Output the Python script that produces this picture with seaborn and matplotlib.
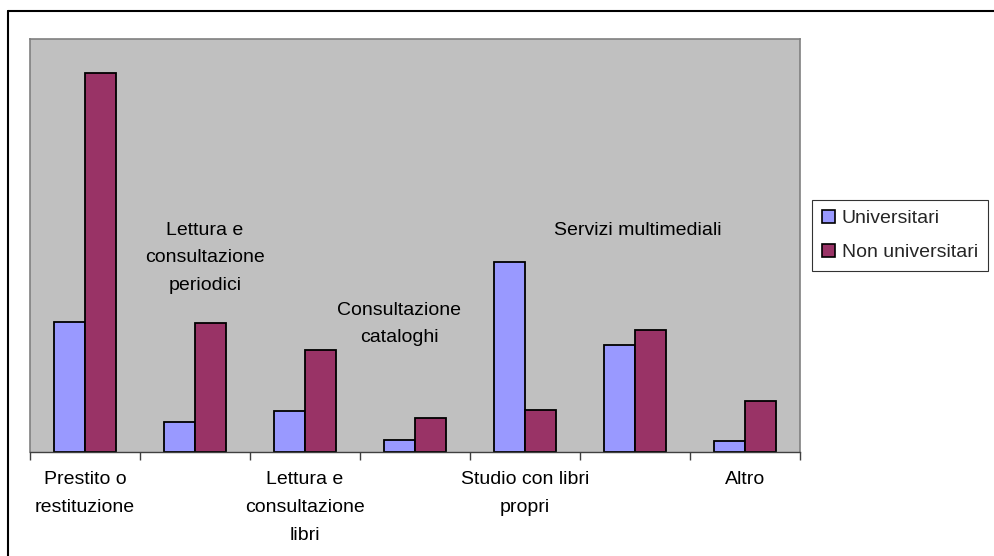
import pandas as pd
import seaborn as sns
import matplotlib.pyplot as plt
from matplotlib.lines import Line2D

categorie = ["Prestito o\nrestituzione", "Lettura e\nconsultazione\nperiodici",
             "Lettura e\nconsultazione\nlibri", "Consultazione\ncataloghi",
             "Studio con libri\npropri", "Servizi multimediali", "Altro"]
universitari = [130, 30, 41, 12, 190, 107, 11]
non_universitari = [379, 129, 102, 34, 42, 122, 51]
gruppi = ["Universitari", "Non universitari"]

df = pd.DataFrame({
    "Categoria": categorie * 2,
    "Valore": universitari + non_universitari,
    "Gruppo": [gruppi[0]] * len(categorie) + [gruppi[1]] * len(categorie),
})

sns.set_theme(style="white")
plt.rcParams['font.family'] = ['Liberation Sans', 'DejaVu Sans']

fig = plt.figure(figsize=(9.94, 5.56), dpi=100)
ax = fig.add_axes([30 / 994, 1 - 452 / 556, 770 / 994, 413 / 556])

sns.barplot(data=df, x="Categoria", y="Valore", hue="Gruppo", order=categorie,
            palette={"Universitari": "#9999FF", "Non universitari": "#993366"},
            width=0.56, edgecolor="black", linewidth=1.3, saturation=1,
            legend=False, ax=ax)

ax.set_facecolor("#C0C0C0")
ax.set_xlim(-0.5, len(categorie) - 0.5)
ax.set_ylim(0, 413)
ax.set_yticks([])
ax.set_xlabel("")
ax.set_ylabel("")
for side in ["top", "left", "right"]:
    ax.spines[side].set_color("#808080")
    ax.spines[side].set_linewidth(1.2)
ax.spines["bottom"].set_color("#404040")
ax.spines["bottom"].set_linewidth(1)

# ticks tra le categorie, etichette alternate sotto / dentro il grafico
ax.set_xticks([i - 0.5 for i in range(len(categorie) + 1)])
ax.set_xticklabels([])
ax.tick_params(axis="x", direction="out", length=6, width=1, color="#404040", bottom=True)
fs = 14
ls = 1.82
sopra = {1: (0.09, 0.47), 3: (-0.145, 0.31), 5: (0.03, 0.5375)}
for i, lab in enumerate(categorie):
    if i % 2 == 0:
        ax.text(i, -0.047, lab, transform=ax.get_xaxis_transform(), ha="center",
                va="top", fontsize=fs, linespacing=ls, color="black")
    else:
        dx, y = sopra[i]
        ax.text(i + dx, y, lab, transform=ax.get_xaxis_transform(), ha="center",
                va="center", fontsize=fs, linespacing=ls, color="black")

handles = [plt.Rectangle((0, 0), 1, 1, facecolor=c, edgecolor="black", linewidth=1.2)
           for c in ["#9999FF", "#993366"]]
leg = fig.legend(handles, gruppi, loc="upper left", bbox_to_anchor=(812 / 994, 1 - 200 / 556),
                 fontsize=14, frameon=True, fancybox=False, edgecolor="black",
                 handlelength=0.68, handleheight=0.68, handletextpad=0.35,
                 borderpad=0.5, labelspacing=0.85, borderaxespad=0)
leg.get_frame().set_linewidth(0.8)

# cornice esterna del grafico
fig.add_artist(Line2D([8 / 994, 8 / 994], [0, 1 - 11 / 556], color="black", linewidth=1.5))
fig.add_artist(Line2D([8 / 994, 1], [1 - 11 / 556, 1 - 11 / 556], color="black", linewidth=1.5))

fig.savefig("out.png", dpi=100)
